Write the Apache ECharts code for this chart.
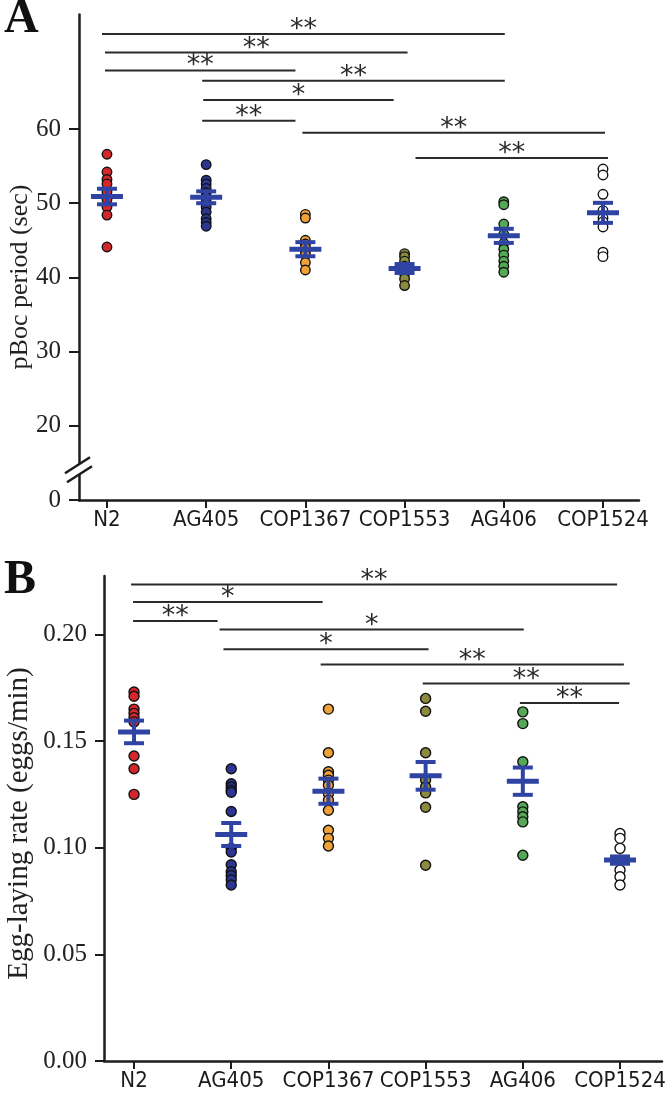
<!DOCTYPE html>
<html><head><meta charset="utf-8">
<script src="https://cdn.jsdelivr.net/npm/echarts@6/dist/echarts.min.js"></script>
<style>html,body{margin:0;padding:0;background:#fff}#c{width:672px;height:1095px}</style>
</head><body><div id="c"></div>
<script>
// ---------- shared ----------
const categories = ['N2', 'AG405', 'COP1367', 'COP1553', 'AG406', 'COP1524'];

// ---------- Panel A: pBoc period (sec) ----------
const periodN2      = [56.6, 54.2, 53.2, 52.6, 51.5, 50.5, 49.5, 48.4, 44.1];
const periodAG405   = [55.2, 53.1, 52.6, 52.0, 51.4, 50.8, 50.2, 49.5, 48.8, 47.9, 47.4, 46.9];
const periodCOP1367 = [48.5, 48.0, 45.0, 44.5, 44.0, 43.5, 43.0, 42.0, 41.0];
const periodCOP1553 = [43.2, 42.8, 42.2, 41.5, 41.0, 40.5, 39.8, 38.9];
const periodAG406   = [50.2, 49.8, 47.2, 45.8, 44.6, 43.8, 43.0, 42.2, 41.5, 40.7];
const periodCOP1524 = [54.6, 53.8, 51.2, 49.0, 48.0, 47.5, 46.8, 43.4, 42.8];
const periodMean = [50.9, 50.8, 43.8, 41.2, 45.6, 48.7];
const periodSem  = [1.05, 0.8, 0.95, 0.6, 0.95, 1.35];
const periodTicks = [0, 20, 30, 40, 50, 60];
const periodSigFrom  = [-0.05, -0.02, -0.02, 0.96, 0.97, 0.96, 1.97, 3.11];
const periodSigTo    = [4.01, 3.03, 1.90, 4.01, 2.89, 1.90, 5.02, 5.05];
const periodSigY     = [72.8, 70.3, 67.9, 66.5, 63.9, 61.1, 59.5, 56.1];
const periodSigLabel = ['**', '**', '**', '**', '*', '**', '**', '**'];

// ---------- Panel B: Egg-laying rate (eggs/min) ----------
const rateN2      = [0.173, 0.171, 0.165, 0.163, 0.161, 0.159, 0.143, 0.137, 0.125];
const rateAG405   = [0.137, 0.130, 0.1285, 0.127, 0.126, 0.117, 0.0997, 0.098, 0.092, 0.0887, 0.087, 0.085, 0.0825];
const rateCOP1367 = [0.165, 0.1445, 0.1356, 0.134, 0.1317, 0.1293, 0.1254, 0.1223, 0.1176, 0.1082, 0.1044, 0.1008];
const rateCOP1553 = [0.170, 0.164, 0.1445, 0.1317, 0.1285, 0.1257, 0.119, 0.0918];
const rateAG406   = [0.1637, 0.1582, 0.1403, 0.1192, 0.1168, 0.1145, 0.1121, 0.0965];
const rateCOP1524 = [0.1067, 0.1044, 0.0997, 0.0942, 0.0895, 0.0864, 0.0825];
const rateMean = [0.1543, 0.1062, 0.1265, 0.1337, 0.1312, 0.0942];
const rateSem  = [0.0053, 0.0054, 0.0059, 0.0065, 0.0064, 0.0017];
const rateTicks = [0, 0.05, 0.10, 0.15, 0.20];
const rateSigFrom  = [-0.03, -0.01, -0.01, 0.88, 0.92, 1.92, 2.97, 3.97];
const rateSigTo    = [4.97, 1.94, 0.86, 4.01, 3.03, 5.04, 5.10, 4.99];
const rateSigY     = [0.2234, 0.2152, 0.2063, 0.2023, 0.1931, 0.1859, 0.1770, 0.1679];
const rateSigLabel = ['**', '*', '**', '*', '*', '**', '**', '**'];

// ---------- styles ----------
const pointColors = ['#d5262b', '#2c3591', '#f0a238', '#8b8a3e', '#55a856', '#ffffff'];
const meanColor = '#2f44a2';
const inkColor = '#1c1c1c';
const serif = '"Liberation Serif", "Times New Roman", serif';
const narrow = '"DejaVu Sans Condensed", "Liberation Sans", sans-serif';

const xMinA = -0.282, xMaxA = 5.363;
const xMinB = -0.309, xMaxB = 5.432;
const breakA = [4, 14];

function pointsOf(groups) {
  const out = [];
  groups.forEach((arr, i) => arr.forEach(v => out.push([i, v])));
  return out;
}
const periodPoints = pointsOf([periodN2, periodAG405, periodCOP1367, periodCOP1553, periodAG406, periodCOP1524]);
const ratePoints = pointsOf([rateN2, rateAG405, rateCOP1367, rateCOP1553, rateAG406, rateCOP1524]);

function meanSemData(mean, sem) {
  return mean.map((m, i) => [i, m, sem[i]]);
}
function sigData(from, to, y) {
  return from.map((f, i) => [f, y[i], to[i]]);
}

function renderMean(params, api) {
  const x = api.value(0), m = api.value(1), s = api.value(2);
  const c = api.coord([x, m]);
  const hi = api.coord([x, m + s]);
  const lo = api.coord([x, m - s]);
  const st = w => ({ stroke: meanColor, lineWidth: w });
  return {
    type: 'group',
    children: [
      { type: 'line', shape: { x1: c[0], y1: hi[1], x2: c[0], y2: lo[1] }, style: st(4) },
      { type: 'line', shape: { x1: c[0] - 10, y1: hi[1], x2: c[0] + 10, y2: hi[1] }, style: st(4) },
      { type: 'line', shape: { x1: c[0] - 10, y1: lo[1], x2: c[0] + 10, y2: lo[1] }, style: st(4) },
      { type: 'line', shape: { x1: c[0] - 16, y1: c[1], x2: c[0] + 16, y2: c[1] }, style: st(5) }
    ]
  };
}
function makeSigRender(labels) {
  return function (params, api) {
    const a = api.coord([api.value(0), api.value(1)]);
    const b = api.coord([api.value(2), api.value(1)]);
    return {
      type: 'group',
      children: [
        { type: 'line', shape: { x1: a[0], y1: a[1], x2: b[0], y2: b[1] }, style: { stroke: '#2a2a2a', lineWidth: 2 } },
        { type: 'text', x: (a[0] + b[0]) / 2, y: a[1] - 4,
          style: { text: labels[params.dataIndex], fill: '#2a2a2a', font: '27px "DejaVu Sans", sans-serif',
                   align: 'center', verticalAlign: 'middle', textAlign: 'center', textVerticalAlign: 'middle' } }
      ]
    };
  };
}
function renderBreak(params, api) {
  const c = api.coord([api.value(0), api.value(1)]);
  const x = c[0], y = c[1];
  const u1 = [x - 14, y + 3], u2 = [x + 11, y - 13];
  const l1 = [x - 12, y + 12], l2 = [x + 13, y - 4];
  return {
    type: 'group',
    children: [
      { type: 'polygon', shape: { points: [u1, u2, l2, l1] }, style: { fill: '#fff' } },
      { type: 'line', shape: { x1: u1[0], y1: u1[1], x2: u2[0], y2: u2[1] }, style: { stroke: inkColor, lineWidth: 2.5 } },
      { type: 'line', shape: { x1: l1[0], y1: l1[1], x2: l2[0], y2: l2[1] }, style: { stroke: inkColor, lineWidth: 2.5 } }
    ]
  };
}

const axisLine = { show: true, onZero: false, lineStyle: { color: inkColor, width: 2.5 } };
function xAxisFor(gridIndex, min, max) {
  return {
    type: 'value', gridIndex, min, max,
    axisLine,
    axisTick: { show: true, length: 8, customValues: [0, 1, 2, 3, 4, 5], lineStyle: { color: inkColor, width: 2 } },
    axisLabel: { customValues: [0, 1, 2, 3, 4, 5], formatter: v => categories[Math.round(v)], margin: 9,
                 fontFamily: narrow, fontSize: 22, color: '#1a1a1a', hideOverlap: false },
    splitLine: { show: false }
  };
}

const option = {
  animation: false,
  backgroundColor: '#ffffff',
  graphic: [
    { type: 'text', left: 4, top: -4, style: { text: 'A', font: 'bold 48px ' + serif, fill: '#111' } },
    { type: 'text', left: 4, top: 557, style: { text: 'B', font: 'bold 48px ' + serif, fill: '#111' } }
  ],
  grid: [
    { left: 79, top: 14, width: 560, height: 486, outerBoundsMode: 'none', containLabel: false },
    { left: 104, top: 576, width: 558, height: 485, outerBoundsMode: 'none', containLabel: false }
  ],
  xAxis: [xAxisFor(0, xMinA, xMaxA), xAxisFor(1, xMinB, xMaxB)],
  yAxis: [
    {
      type: 'value', gridIndex: 0, min: 0, max: 75.5,
      breaks: [{ start: breakA[0], end: breakA[1], gap: 0 }],
      breakArea: { show: false },
      name: 'pBoc period (sec)', nameLocation: 'middle', nameGap: 46, nameMoveOverlap: false,
      nameTextStyle: { fontFamily: serif, fontSize: 26, color: '#222', padding: [0, 40, 0, 0] },
      axisLine,
      axisTick: { show: true, length: 10, customValues: periodTicks, lineStyle: { color: inkColor, width: 2 } },
      axisLabel: { customValues: periodTicks, margin: 18, fontFamily: serif, fontSize: 25, color: '#222',
                   formatter: v => String(v) },
      splitLine: { show: false }
    },
    {
      type: 'value', gridIndex: 1, min: 0, max: 0.2274,
      name: 'Egg-laying rate (eggs/min)', nameLocation: 'middle', nameGap: 70, nameMoveOverlap: false,
      nameTextStyle: { fontFamily: serif, fontSize: 29, color: '#222', padding: [0, 10, 0, 0] },
      axisLine,
      axisTick: { show: true, length: 9, customValues: rateTicks, lineStyle: { color: inkColor, width: 2 } },
      axisLabel: { customValues: rateTicks, margin: 17, fontFamily: serif, fontSize: 25, color: '#222',
                   formatter: v => v.toFixed(2) },
      splitLine: { show: false }
    }
  ],
  series: [
    {
      type: 'scatter', xAxisIndex: 0, yAxisIndex: 0, data: periodPoints, symbolSize: 9.5,
      itemStyle: { color: p => pointColors[p.value[0]], borderColor: '#111', borderWidth: 1.4, opacity: 1 }
    },
    {
      type: 'scatter', xAxisIndex: 1, yAxisIndex: 1, data: ratePoints, symbolSize: 10,
      itemStyle: { color: p => pointColors[p.value[0]], borderColor: '#111', borderWidth: 1.4, opacity: 1 }
    },
    { type: 'custom', xAxisIndex: 0, yAxisIndex: 0, data: meanSemData(periodMean, periodSem),
      encode: { x: 0, y: 1 }, renderItem: renderMean, z: 5 },
    { type: 'custom', xAxisIndex: 1, yAxisIndex: 1, data: meanSemData(rateMean, rateSem),
      encode: { x: 0, y: 1 }, renderItem: renderMean, z: 5 },
    { type: 'custom', xAxisIndex: 0, yAxisIndex: 0, data: sigData(periodSigFrom, periodSigTo, periodSigY),
      encode: { x: 0, y: 1 }, renderItem: makeSigRender(periodSigLabel), z: 4 },
    { type: 'custom', xAxisIndex: 1, yAxisIndex: 1, data: sigData(rateSigFrom, rateSigTo, rateSigY),
      encode: { x: 0, y: 1 }, renderItem: makeSigRender(rateSigLabel), z: 4 },
    { type: 'custom', xAxisIndex: 0, yAxisIndex: 0, data: [[xMinA, breakA[0]]],
      encode: { x: 0, y: 1 }, renderItem: renderBreak, z: 10, silent: true }
  ]
};

const chart = echarts.init(document.getElementById('c'), null, { renderer: 'canvas', width: 672, height: 1095 });
chart.setOption(option);
</script>
</body></html>
